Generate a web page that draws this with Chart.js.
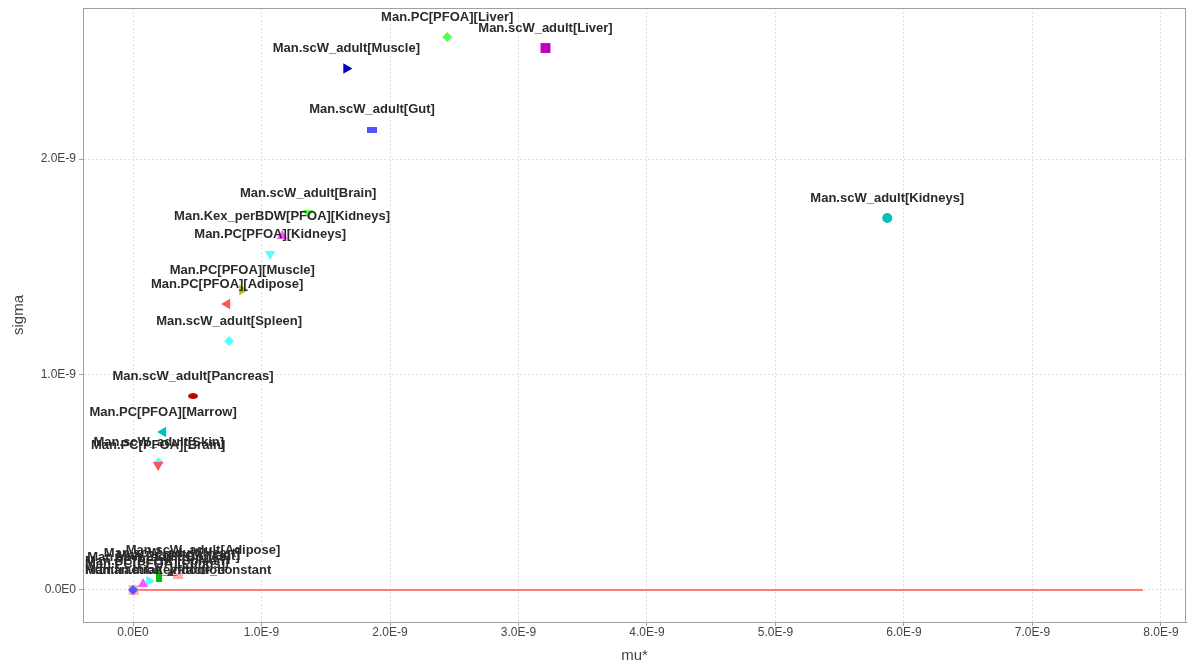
<!DOCTYPE html>
<html>
<head>
<meta charset="utf-8">
<script src="https://cdn.jsdelivr.net/npm/chart.js@4.4.1/dist/chart.umd.min.js"></script>
<style>
  html,body{margin:0;padding:0;background:#fff;}
  #wrap{width:1187px;height:662px;position:relative;}
</style>
</head>
<body>
<div id="wrap"><canvas id="ch"></canvas></div>
<script>
// ===== data =====
const names=[
  'Man.PC[PFOA][Liver]','Man.scW_adult[Liver]','Man.scW_adult[Muscle]','Man.scW_adult[Gut]',
  'Man.scW_adult[Kidneys]','Man.scW_adult[Brain]','Man.Kex_perBDW[PFOA][Kidneys]','Man.PC[PFOA][Kidneys]',
  'Man.PC[PFOA][Muscle]','Man.PC[PFOA][Adipose]','Man.scW_adult[Spleen]','Man.scW_adult[Pancreas]',
  'Man.PC[PFOA][Marrow]','Man.scW_adult[Skin]','Man.PC[PFOA][Brain]',
  'Man.scW_adult[Adipose]','Man.scW_adult[Heart]','Man.scW_adult[Bones]','Man.PC[PFOA][Gut]',
  'Man.PC[PFOA][Spleen]','Man.PC[PFOA][Lungs]','Human.intake_fraction','Man.fraction_indoor_constant'
];
const muVals=[
  2.445e-9,3.21e-9,1.66e-9,1.86e-9,
  5.87e-9,1.363e-9,1.16e-9,1.067e-9,
  0.85e-9,0.732e-9,0.748e-9,0.467e-9,
  0.234e-9,0.2e-9,0.195e-9,
  0.545e-9,0.304e-9,0.2e-9,0.35e-9,
  0.125e-9,0.078e-9,0.005e-9,0.0
];
const sigmaVals=[
  2.566e-9,2.515e-9,2.42e-9,2.135e-9,
  1.726e-9,1.749e-9,1.643e-9,1.559e-9,
  1.392e-9,1.327e-9,1.155e-9,0.9e-9,
  0.733e-9,0.593e-9,0.58e-9,
  0.093e-9,0.079e-9,0.06e-9,0.065e-9,
  0.042e-9,0.028e-9,0.0,0.0
];
const refLineMu=[0,7.86e-9];
const refLineSigma=[0,0];
const xTickVals=[0,1e-9,2e-9,3e-9,4e-9,5e-9,6e-9,7e-9,8e-9];
const yTickVals=[0,1e-9,2e-9];

// ===== styles =====
const markerColors=[
  '#55ff55','#c000c0','#0000c0','#5555ff',
  '#00c0c0','#55ff55','#ff55ff','#55ffff',
  '#c0c000','#ff5555','#55ffff','#c00000',
  '#00c0c0','#55ffff','#ff5555',
  '#808080','#404040','#00c000','#ffafaf',
  '#55ffff','#ff55ff','#ffafaf','#5555ff'
];
const markerShapes=[
  'diamond','square','right','hrect',
  'circle','down','up','down',
  'right','left','diamond','hellipse',
  'left','diamond','down',
  'diamond','up','vrect','hrect',
  'right','up','square','diamond'
];

function shapeImg(kind,color){
  const c=document.createElement('canvas');
  const w=kind==='vrect'?6:10, h=kind==='vrect'?10:6;
  c.width=w; c.height=h;
  const g=c.getContext('2d'); g.fillStyle=color;
  if(kind==='hellipse'){ g.beginPath(); g.ellipse(w/2,h/2,w/2,h/2,0,0,Math.PI*2); g.fill(); }
  else g.fillRect(0,0,w,h);
  return c;
}
const styleOf=(k,col)=>{
  switch(k){
    case 'diamond': return {s:'rectRot',r:5,rot:0};
    case 'square': return {s:'rect',r:7,rot:0};
    case 'circle': return {s:'circle',r:5,rot:0};
    case 'up': return {s:'triangle',r:6,rot:0};
    case 'down': return {s:'triangle',r:6,rot:180};
    case 'right': return {s:'triangle',r:6,rot:90};
    case 'left': return {s:'triangle',r:6,rot:270};
    default: return {s:shapeImg(k,col),r:5,rot:0};
  }
};
const st=markerShapes.map((k,i)=>styleOf(k,markerColors[i]));

const sci=v=>{
  if(Math.abs(v)<1e-20) return '0.0E0';
  const e=Math.floor(Math.log10(Math.abs(v))+1e-9);
  return (v/Math.pow(10,e)).toFixed(1)+'E'+e;
};

// point labels above each marker, kept inside the plot on the left
const pointLabels={
  id:'pointLabels',
  afterDatasetsDraw(chart){
    const {ctx,chartArea}=chart;
    const meta=chart.getDatasetMeta(1);
    ctx.save();
    ctx.font='bold 13px "Liberation Sans", Arial, sans-serif';
    ctx.fillStyle='#2a2a2a';
    ctx.textBaseline='middle';
    ctx.textAlign='left';
    meta.data.forEach((pt,i)=>{
      const t=names[i], w=ctx.measureText(t).width;
      let x=pt.x-w/2;
      if(x<chartArea.left+2) x=chartArea.left+2;
      ctx.fillText(t,x,pt.y-20);
    });
    ctx.restore();
  }
};
const frame={
  id:'frame',
  afterDraw(chart){
    const {ctx,chartArea:a}=chart;
    ctx.save(); ctx.strokeStyle='#a0a0a0'; ctx.lineWidth=1;
    ctx.strokeRect(a.left+0.5,a.top+0.5,a.right-a.left-1,a.bottom-a.top);
    ctx.restore();
  }
};

const gridCfg={color:'#dedede',tickColor:'#a0a0a0',tickLength:4,tickBorderDash:[]};
const borderCfg={color:'#a0a0a0',dash:[2,2]};
new Chart(document.getElementById('ch'),{
  type:'scatter',
  data:{datasets:[
    {type:'line',label:'ref',data:refLineMu.map((m,i)=>({x:m,y:refLineSigma[i]})),
     borderColor:'#ff5555',borderWidth:1.5,pointRadius:0,order:2},
    {label:'sensitivity',data:muVals.map((m,i)=>({x:m,y:sigmaVals[i]})),
     pointStyle:st.map(o=>o.s),pointRadius:st.map(o=>o.r),pointRotation:st.map(o=>o.rot),
     pointBackgroundColor:markerColors,pointBorderWidth:0,pointBorderColor:markerColors,
     pointHoverRadius:st.map(o=>o.r),order:1}
  ]},
  options:{
    responsive:true,maintainAspectRatio:false,animation:false,
    layout:{autoPadding:false,padding:{top:8,right:1,left:0,bottom:0}},
    plugins:{legend:{display:false},tooltip:{enabled:false}},
    scales:{
      x:{type:'linear',min:-0.3895e-9,max:8.195e-9,
        afterFit:s=>{s.height=40; s.paddingRight=0; s.paddingLeft=0;},
        afterBuildTicks:s=>{s.ticks=xTickVals.map(v=>({value:v}));},
        grid:gridCfg,border:borderCfg,
        ticks:{callback:v=>sci(v),color:'#444',padding:-1,maxRotation:0,font:{family:'"Liberation Sans", Arial, sans-serif',size:12}},
        title:{display:true,text:'mu*',color:'#444',padding:{top:0,bottom:-3},font:{family:'"Liberation Sans", Arial, sans-serif',size:15}}},
      y:{type:'linear',min:-0.1485e-9,max:2.7007e-9,
        afterFit:s=>{s.width=83; s.paddingTop=0; s.paddingBottom=0;},
        afterBuildTicks:s=>{s.ticks=yTickVals.map(v=>({value:v}));},
        grid:gridCfg,border:borderCfg,
        ticks:{callback:v=>sci(v),color:'#444',padding:3,font:{family:'"Liberation Sans", Arial, sans-serif',size:12}},
        title:{display:true,text:'sigma',color:'#444',padding:{top:10,bottom:0},font:{family:'"Liberation Sans", Arial, sans-serif',size:15}}}
    }
  },
  plugins:[pointLabels,frame]
});
</script>
</body>
</html>
